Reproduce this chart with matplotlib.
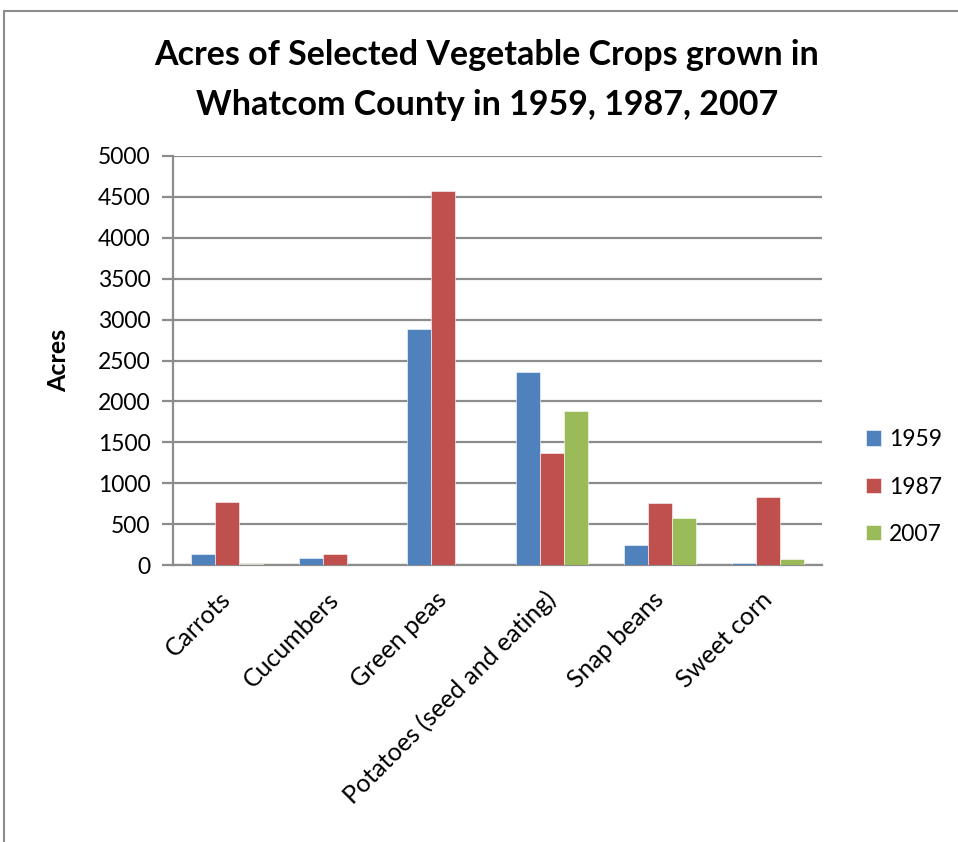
import numpy as np
import matplotlib
matplotlib.use("Agg")
import matplotlib.pyplot as plt
from matplotlib.patches import Rectangle

plt.rcParams['font.family'] = ['Lato', 'DejaVu Sans']

# acres by crop for each census year
crops = ["Carrots", "Cucumbers", "Green peas", "Potatoes (seed and eating)",
         "Snap beans", "Sweet corn"]
years = ["1959", "1987", "2007"]
acres_1959 = [140, 85, 2890, 2360, 250, 25]
acres_1987 = [765, 130, 4570, 1370, 760, 830]
acres_2007 = [10, 5, 0, 1880, 575, 70]
colors = ["#4F81BD", "#C0504D", "#9BBB59"]

fig = plt.figure(figsize=(9.58, 8.42), dpi=100)

# chart area outline (runs off the right and bottom edges)
fig.patches.append(Rectangle((4 / 958, -0.1), 1.2, 1 - 11 / 842 + 0.1,
                             transform=fig.transFigure, fill=False,
                             edgecolor="#8c8c8c", linewidth=1.5))

ax = fig.add_axes([173 / 958, 1 - 565 / 842, (822 - 173) / 958, (565 - 156) / 842])

x = np.arange(len(crops))
w = 1 / 4.5
for i, (vals, yr) in enumerate(zip([acres_1959, acres_1987, acres_2007], years)):
    ax.bar(x + (i - 1) * w, vals, width=w, color=colors[i], label=yr,
           edgecolor="white", linewidth=0.4, zorder=3)

ax.set_xlim(-0.5, len(crops) - 0.5)
ax.set_ylim(0, 5000)
ax.set_yticks(np.arange(0, 5001, 500))
ax.yaxis.grid(True, color="#8c8c8c", linewidth=1.6, zorder=0)
ax.set_axisbelow(True)

for s in ["top", "right"]:
    ax.spines[s].set_visible(False)
ax.spines["left"].set_color("#8c8c8c")
ax.spines["left"].set_linewidth(1.6)
ax.spines["bottom"].set_color("#8c8c8c")
ax.spines["bottom"].set_linewidth(1.6)

ax.tick_params(axis="y", length=8, width=1.6, color="#8c8c8c", labelsize=16.5, pad=8)
ax.tick_params(axis="x", length=0, labelsize=18, pad=22)
ax.set_xticks(x)
ax.set_xticklabels(crops, rotation=45, ha="right", va="center", rotation_mode="anchor")

ax.set_ylabel("Acres", fontsize=18, fontweight="bold", labelpad=20)

fig.text(487 / 958, 1 - 55 / 842, "Acres of Selected Vegetable Crops grown in",
         ha="center", va="center", fontsize=24.5, fontweight="bold")
fig.text(487 / 958, 1 - 105 / 842, "Whatcom County in 1959, 1987, 2007",
         ha="center", va="center", fontsize=24.5, fontweight="bold")

fig.legend(loc="center left", bbox_to_anchor=(866 / 958, 1 - 487 / 842),
           frameon=False, fontsize=16.5, labelspacing=1.15, handlelength=0.65,
           handleheight=0.65, handletextpad=0.35, borderpad=0, borderaxespad=0)

fig.savefig("out.png", dpi=100)
